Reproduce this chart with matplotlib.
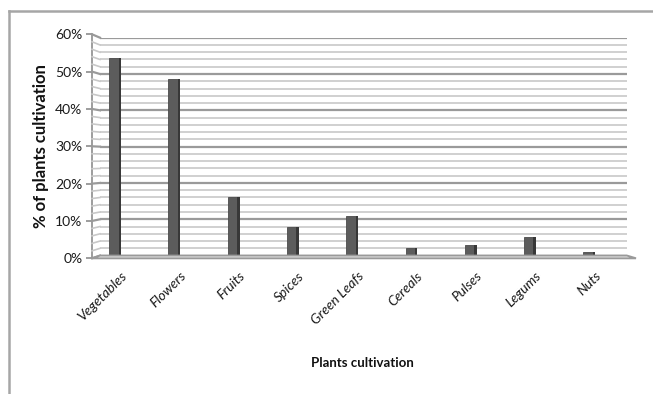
import numpy as np
import matplotlib.pyplot as plt
from matplotlib.lines import Line2D
from matplotlib.patches import Polygon
from matplotlib.ticker import FuncFormatter

# plants cultivation survey
categories = ['Vegetables', 'Flowers', 'Fruits', 'Spices', 'Green Leafs',
              'Cereals', 'Pulses', 'Legums', 'Nuts']
percent = [54.5, 48.5, 16, 8, 11, 2.2, 3, 5, 1]
yticks = [0, 10, 20, 30, 40, 50, 60]

W, H = 653, 394
fig = plt.figure(figsize=(W / 100, H / 100), dpi=100)
FONT = 'Lato'

def box(x0, y0, x1, y1):
    # pixel box (top-left origin) -> figure fraction rect
    return [x0 / W, 1 - y1 / H, (x1 - x0) / W, (y1 - y0) / H]

# back wall (bars + gridlines)
ax = fig.add_axes(box(100, 37.7, 627, 255.6))
# front edge (y axis + floor front)
axf = fig.add_axes(box(92, 34.3, 636, 258.3))
axf.set_zorder(-1)

x = np.arange(len(categories))
ax.set_xlim(-0.236, 8.658)
ax.set_ylim(0, 60)
axf.set_xlim(0, 1)
axf.set_ylim(0, 60)

for a in (ax, axf):
    a.patch.set_visible(False)
    for s in a.spines.values():
        s.set_visible(False)
ax.set_xticks([])
ax.set_yticks([])

inv = fig.transFigure.inverted()

# gridlines on the back wall, minor every 2%, major every 10%
for p in range(0, 61, 2):
    major = p % 10 == 0
    col = '#9a9a9a' if major else '#c8c8c8'
    lw = 1.6 if major else 1.2
    ax.axhline(p, color=col, lw=lw, zorder=1)
    # side wall slant from front axis to back wall
    p0 = inv.transform(axf.transData.transform((0, p)))
    p1 = inv.transform(ax.transData.transform((ax.get_xlim()[0], p)))
    fig.add_artist(Line2D([p0[0], p1[0]], [p0[1], p1[1]], color=col, lw=lw,
                          transform=fig.transFigure, zorder=1))

# floor
corners = [inv.transform(axf.transData.transform((0, 0))),
           inv.transform(ax.transData.transform((ax.get_xlim()[0], 0))),
           inv.transform(ax.transData.transform((ax.get_xlim()[1], 0))),
           inv.transform(axf.transData.transform((1, 0)))]
fig.add_artist(Polygon(corners, closed=True, facecolor='white', edgecolor='#9a9a9a',
                       lw=1.4, transform=fig.transFigure, zorder=2))

# front y axis
axf.spines['left'].set_visible(True)
axf.spines['left'].set_color('#8c8c8c')
axf.spines['left'].set_linewidth(1.2)
axf.set_xticks([])
axf.set_yticks(yticks)
axf.yaxis.set_major_formatter(FuncFormatter(lambda v, pos: '%d%%' % v))
axf.tick_params(axis='y', length=4, width=1.2, color='#8c8c8c', labelsize=10,
                labelcolor='#1a1a1a', pad=3)
for t in axf.get_yticklabels():
    t.set_family(FONT)
axf.set_ylabel('% of plants cultivation', fontsize=12, fontweight='bold',
               family=FONT, color='#111111', labelpad=4)

# columns: front face + darker side face
ax.bar(x, percent, width=0.16, color='#5c5c5c', edgecolor='#4a4a4a', lw=0.6, zorder=3)
ax.bar(x + 0.08 + 0.02, percent, width=0.04, color='#383838', lw=0, zorder=3)

# category labels
for xi, name in zip(x, categories):
    fx, fy = inv.transform(ax.transData.transform((xi + 0.18, 0)))
    fig.text(fx, 1 - 274 / H, name, rotation=45, rotation_mode='anchor',
             ha='right', va='center', fontsize=10, style='italic',
             family=FONT, color='#1a1a1a')

fig.text(362 / W, 1 - 363 / H, 'Plants cultivation', ha='center', va='center',
         fontsize=9.5, fontweight='bold', family=FONT, color='#111111')

# chart frame (top and left edges)
fig.add_artist(Line2D([9 / W, 1], [1 - 11 / H, 1 - 11 / H], color='#a6a6a6',
                      lw=1.8, transform=fig.transFigure))
fig.add_artist(Line2D([9 / W, 9 / W], [1 - 11 / H, 0], color='#a6a6a6',
                      lw=1.8, transform=fig.transFigure))

fig.savefig('out.png', dpi=100)
